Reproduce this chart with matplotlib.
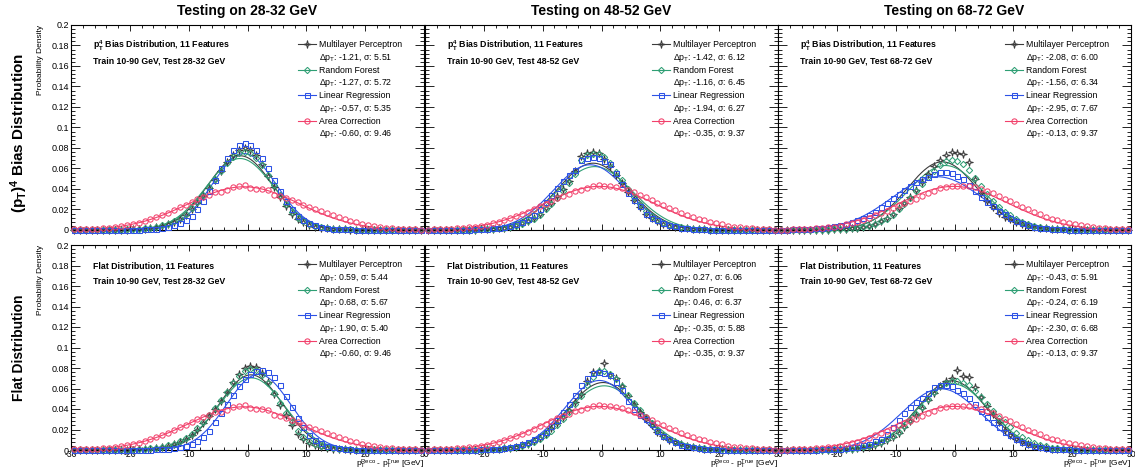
import numpy as np
import matplotlib
matplotlib.use("Agg")
import matplotlib.pyplot as plt
from matplotlib.lines import Line2D
from matplotlib.path import Path
from matplotlib.ticker import MultipleLocator, FuncFormatter

plt.rcParams.update({
    "font.family": ["Liberation Sans", "DejaVu Sans"],
    "mathtext.fontset": "custom",
    "mathtext.rm": "Liberation Sans",
    "mathtext.it": "Liberation Sans:italic",
    "mathtext.bf": "Liberation Sans:bold",
    "axes.linewidth": 0.8,
    "axes.unicode_minus": False,
})

# ----------------------------------------------------------------------------
# Data (1 GeV bins, -30 .. 30)
# ----------------------------------------------------------------------------
BIN_CENTERS = np.arange(-29.5, 30.0, 1.0)
TEST_RANGES = ["28-32", "48-52", "68-72"]

# fit results shown in the legends
MLP_MEAN_PT4 = [-1.21, -1.42, -2.08]
MLP_SIGMA_PT4 = [5.51, 6.12, 6.00]
RF_MEAN_PT4 = [-1.27, -1.16, -1.56]
RF_SIGMA_PT4 = [5.72, 6.45, 6.34]
LR_MEAN_PT4 = [-0.57, -1.94, -2.95]
LR_SIGMA_PT4 = [5.35, 6.27, 7.67]
MLP_MEAN_FLAT = [0.59, 0.27, -0.43]
MLP_SIGMA_FLAT = [5.44, 6.06, 5.91]
RF_MEAN_FLAT = [0.68, 0.46, -0.24]
RF_SIGMA_FLAT = [5.67, 6.37, 6.19]
LR_MEAN_FLAT = [1.90, -0.35, -2.30]
LR_SIGMA_FLAT = [5.40, 5.88, 6.68]
AC_MEAN = [-0.60, -0.35, -0.13]
AC_SIGMA = [9.46, 9.37, 9.37]

# area correction (same in both rows)
AC_28 = [0.0005, 0.0006, 0.0007, 0.0010, 0.0013, 0.0018, 0.0024, 0.0030, 0.0038, 0.0047,
         0.0060, 0.0072, 0.0088, 0.0105, 0.0125, 0.0146, 0.0168, 0.0192, 0.0220, 0.0246,
         0.0273, 0.0300, 0.0322, 0.0345, 0.0372, 0.0370, 0.0392, 0.0415, 0.0428, 0.0438,
         0.0405, 0.0402, 0.0396, 0.0388, 0.0345, 0.0335, 0.0315, 0.0292, 0.0270, 0.0248,
         0.0226, 0.0206, 0.0186, 0.0165, 0.0145, 0.0126, 0.0108, 0.0092, 0.0076, 0.0062,
         0.0050, 0.0040, 0.0031, 0.0024, 0.0018, 0.0014, 0.0010, 0.0008, 0.0006, 0.0004]
AC_48 = [0.0003, 0.0005, 0.0006, 0.0009, 0.0012, 0.0015, 0.0020, 0.0026, 0.0033, 0.0042,
         0.0053, 0.0066, 0.0080, 0.0096, 0.0114, 0.0140, 0.0160, 0.0180, 0.0205, 0.0232,
         0.0258, 0.0285, 0.0312, 0.0330, 0.0355, 0.0385, 0.0390, 0.0405, 0.0425, 0.0435,
         0.0432, 0.0428, 0.0420, 0.0408, 0.0390, 0.0368, 0.0342, 0.0318, 0.0292, 0.0268,
         0.0242, 0.0218, 0.0192, 0.0168, 0.0146, 0.0126, 0.0108, 0.0093, 0.0080, 0.0066,
         0.0054, 0.0043, 0.0034, 0.0026, 0.0020, 0.0015, 0.0011, 0.0008, 0.0006, 0.0004]
AC_68 = [0.0003, 0.0004, 0.0005, 0.0007, 0.0009, 0.0012, 0.0016, 0.0021, 0.0027, 0.0034,
         0.0043, 0.0054, 0.0067, 0.0082, 0.0100, 0.0120, 0.0142, 0.0166, 0.0190, 0.0215,
         0.0240, 0.0262, 0.0282, 0.0305, 0.0330, 0.0358, 0.0385, 0.0405, 0.0420, 0.0428,
         0.0430, 0.0432, 0.0428, 0.0418, 0.0400, 0.0380, 0.0358, 0.0332, 0.0306, 0.0280,
         0.0252, 0.0226, 0.0200, 0.0176, 0.0152, 0.0130, 0.0111, 0.0094, 0.0079, 0.0066,
         0.0054, 0.0044, 0.0035, 0.0028, 0.0022, 0.0017, 0.0013, 0.0010, 0.0007, 0.0005]

# pT^4 bias training
MLP_PT4_28 = [0, 0, 0, 0, 0, 0.0001, 0.0001, 0.0002, 0.0003, 0.0004,
              0.0006, 0.0009, 0.0013, 0.0019, 0.0028, 0.0040, 0.0056, 0.0078, 0.0110, 0.0150,
              0.0200, 0.0260, 0.0330, 0.0410, 0.0490, 0.0580, 0.0660, 0.0730, 0.0780, 0.0800,
              0.0780, 0.0730, 0.0640, 0.0530, 0.0420, 0.0320, 0.0230, 0.0160, 0.0110, 0.0075,
              0.0050, 0.0034, 0.0023, 0.0016, 0.0011, 0.0008, 0.0005, 0.0004, 0.0003, 0.0002,
              0.0001, 0.0001, 0.0001, 0.0001, 0.0001, 0.0001, 0.0001, 0.0001, 0.0001, 0.0001]
RF_PT4_28 = [0, 0, 0, 0, 0.0001, 0.0001, 0.0002, 0.0002, 0.0003, 0.0005,
             0.0007, 0.0010, 0.0015, 0.0022, 0.0032, 0.0045, 0.0063, 0.0087, 0.0120, 0.0160,
             0.0210, 0.0270, 0.0340, 0.0420, 0.0500, 0.0580, 0.0650, 0.0710, 0.0750, 0.0760,
             0.0750, 0.0700, 0.0630, 0.0540, 0.0440, 0.0340, 0.0250, 0.0180, 0.0120, 0.0085,
             0.0060, 0.0040, 0.0028, 0.0020, 0.0014, 0.0010, 0.0007, 0.0005, 0.0003, 0.0002,
             0.0002, 0.0001, 0.0001, 0.0001, 0.0001, 0.0001, 0.0001, 0.0001, 0.0001, 0.0001]
LR_PT4_28 = [0, 0, 0, 0, 0, 0, 0, 0.0001, 0.0001, 0.0002,
             0.0003, 0.0004, 0.0006, 0.0009, 0.0013, 0.0020, 0.0030, 0.0045, 0.0068, 0.0100,
             0.0140, 0.0200, 0.0280, 0.0380, 0.0490, 0.0600, 0.0700, 0.0780, 0.0830, 0.0850,
             0.0830, 0.0780, 0.0700, 0.0600, 0.0490, 0.0380, 0.0280, 0.0200, 0.0140, 0.0095,
             0.0065, 0.0045, 0.0030, 0.0020, 0.0014, 0.0010, 0.0007, 0.0005, 0.0003, 0.0002,
             0.0001, 0.0001, 0.0001, 0.0001, 0.0001, 0.0001, 0.0001, 0.0001, 0.0001, 0.0001]
MLP_PT4_48 = [0, 0, 0, 0, 0.0001, 0.0001, 0.0002, 0.0003, 0.0004, 0.0006,
              0.0008, 0.0011, 0.0016, 0.0023, 0.0033, 0.0047, 0.0066, 0.0090, 0.0120, 0.0160,
              0.0210, 0.0260, 0.0330, 0.0400, 0.0480, 0.0580, 0.0720, 0.0750, 0.0760, 0.0750,
              0.0690, 0.0620, 0.0540, 0.0460, 0.0370, 0.0290, 0.0220, 0.0160, 0.0120, 0.0085,
              0.0060, 0.0042, 0.0030, 0.0021, 0.0015, 0.0010, 0.0007, 0.0005, 0.0004, 0.0003,
              0.0002, 0.0002, 0.0001, 0.0001, 0.0001, 0.0001, 0.0001, 0.0001, 0.0001, 0.0001]
RF_PT4_48 = [0, 0, 0, 0, 0.0001, 0.0001, 0.0002, 0.0003, 0.0004, 0.0006,
             0.0008, 0.0011, 0.0015, 0.0021, 0.0030, 0.0043, 0.0060, 0.0083, 0.0110, 0.0150,
             0.0200, 0.0250, 0.0310, 0.0380, 0.0460, 0.0550, 0.0680, 0.0730, 0.0740, 0.0740,
             0.0710, 0.0650, 0.0570, 0.0490, 0.0400, 0.0320, 0.0250, 0.0190, 0.0140, 0.0100,
             0.0072, 0.0051, 0.0036, 0.0025, 0.0018, 0.0012, 0.0008, 0.0006, 0.0004, 0.0003,
             0.0002, 0.0002, 0.0001, 0.0001, 0.0001, 0.0001, 0.0001, 0.0001, 0.0001, 0.0001]
LR_PT4_48 = [0, 0, 0, 0.0001, 0.0001, 0.0002, 0.0003, 0.0004, 0.0006, 0.0008,
             0.0011, 0.0015, 0.0021, 0.0030, 0.0042, 0.0058, 0.0080, 0.0110, 0.0150, 0.0200,
             0.0270, 0.0340, 0.0410, 0.0480, 0.0540, 0.0590, 0.0680, 0.0700, 0.0710, 0.0700,
             0.0670, 0.0640, 0.0560, 0.0450, 0.0360, 0.0290, 0.0230, 0.0160, 0.0120, 0.0095,
             0.0072, 0.0050, 0.0035, 0.0024, 0.0016, 0.0011, 0.0007, 0.0005, 0.0003, 0.0002,
             0.0001, 0.0001, 0.0001, 0.0001, 0.0001, 0.0001, 0.0001, 0.0001, 0.0001, 0.0001]
MLP_PT4_68 = [0, 0, 0, 0, 0.0001, 0.0001, 0.0002, 0.0003, 0.0004, 0.0006,
              0.0008, 0.0011, 0.0015, 0.0021, 0.0030, 0.0042, 0.0060, 0.0085, 0.0120, 0.0160,
              0.0210, 0.0260, 0.0320, 0.0390, 0.0470, 0.0550, 0.0620, 0.0680, 0.0730, 0.0760,
              0.0750, 0.0740, 0.0660, 0.0500, 0.0360, 0.0280, 0.0220, 0.0170, 0.0130, 0.0110,
              0.0080, 0.0058, 0.0042, 0.0030, 0.0021, 0.0015, 0.0010, 0.0007, 0.0005, 0.0003,
              0.0002, 0.0002, 0.0001, 0.0001, 0.0001, 0.0001, 0.0001, 0.0001, 0.0001, 0.0001]
RF_PT4_68 = [0, 0, 0, 0, 0.0001, 0.0001, 0.0002, 0.0003, 0.0004, 0.0006,
             0.0008, 0.0011, 0.0015, 0.0021, 0.0030, 0.0042, 0.0060, 0.0083, 0.0110, 0.0150,
             0.0200, 0.0250, 0.0310, 0.0380, 0.0450, 0.0520, 0.0580, 0.0630, 0.0670, 0.0680,
             0.0670, 0.0640, 0.0590, 0.0510, 0.0430, 0.0350, 0.0280, 0.0220, 0.0180, 0.0150,
             0.0110, 0.0082, 0.0060, 0.0043, 0.0030, 0.0021, 0.0014, 0.0010, 0.0007, 0.0005,
             0.0003, 0.0003, 0.0002, 0.0002, 0.0001, 0.0001, 0.0001, 0.0001, 0.0001, 0.0001]
LR_PT4_68 = [0.0003, 0.0004, 0.0005, 0.0007, 0.0009, 0.0012, 0.0016, 0.0021, 0.0028, 0.0036,
             0.0046, 0.0060, 0.0076, 0.0095, 0.0120, 0.0148, 0.0180, 0.0220, 0.0260, 0.0310,
             0.0350, 0.0390, 0.0430, 0.0470, 0.0500, 0.0520, 0.0550, 0.0570, 0.0570, 0.0560,
             0.0530, 0.0500, 0.0440, 0.0380, 0.0320, 0.0270, 0.0230, 0.0190, 0.0160, 0.0120,
             0.0090, 0.0065, 0.0047, 0.0033, 0.0023, 0.0016, 0.0011, 0.0008, 0.0005, 0.0004,
             0.0003, 0.0002, 0.0002, 0.0001, 0.0001, 0.0001, 0.0001, 0.0001, 0.0001, 0.0001]

# flat training
MLP_FLAT_28 = [0, 0, 0, 0, 0, 0.0001, 0.0001, 0.0002, 0.0002, 0.0003,
               0.0004, 0.0006, 0.0009, 0.0013, 0.0019, 0.0028, 0.0040, 0.0057, 0.0080, 0.0110,
               0.0150, 0.0200, 0.0260, 0.0330, 0.0400, 0.0480, 0.0570, 0.0660, 0.0740, 0.0800,
               0.0820, 0.0810, 0.0750, 0.0660, 0.0550, 0.0440, 0.0340, 0.0240, 0.0160, 0.0110,
               0.0070, 0.0046, 0.0030, 0.0020, 0.0013, 0.0009, 0.0006, 0.0004, 0.0003, 0.0002,
               0.0001, 0.0001, 0.0001, 0.0001, 0.0001, 0.0001, 0.0001, 0.0001, 0.0001, 0.0001]
RF_FLAT_28 = [0, 0, 0, 0, 0, 0.0001, 0.0001, 0.0002, 0.0003, 0.0004,
              0.0005, 0.0007, 0.0010, 0.0015, 0.0022, 0.0032, 0.0045, 0.0063, 0.0088, 0.0120,
              0.0160, 0.0210, 0.0270, 0.0340, 0.0410, 0.0490, 0.0570, 0.0650, 0.0720, 0.0770,
              0.0790, 0.0780, 0.0730, 0.0650, 0.0560, 0.0460, 0.0360, 0.0270, 0.0190, 0.0130,
              0.0088, 0.0060, 0.0040, 0.0027, 0.0018, 0.0012, 0.0008, 0.0005, 0.0003, 0.0002,
              0.0001, 0.0001, 0.0001, 0.0001, 0.0001, 0.0001, 0.0001, 0.0001, 0.0001, 0.0001]
LR_FLAT_28 = [0, 0, 0, 0, 0, 0, 0, 0, 0.0001, 0.0001,
              0.0001, 0.0002, 0.0003, 0.0004, 0.0006, 0.0009, 0.0013, 0.0019, 0.0028, 0.0040,
              0.0058, 0.0085, 0.0130, 0.0190, 0.0270, 0.0360, 0.0450, 0.0540, 0.0620, 0.0690,
              0.0740, 0.0770, 0.0780, 0.0760, 0.0710, 0.0630, 0.0530, 0.0420, 0.0310, 0.0220,
              0.0150, 0.0100, 0.0065, 0.0042, 0.0027, 0.0017, 0.0011, 0.0007, 0.0004, 0.0003,
              0.0002, 0.0001, 0.0001, 0.0001, 0.0001, 0.0001, 0.0001, 0.0001, 0.0001, 0.0001]
MLP_FLAT_48 = [0, 0, 0, 0, 0.0001, 0.0001, 0.0002, 0.0002, 0.0003, 0.0004,
               0.0006, 0.0008, 0.0011, 0.0016, 0.0023, 0.0032, 0.0045, 0.0063, 0.0088, 0.0120,
               0.0160, 0.0210, 0.0260, 0.0320, 0.0390, 0.0470, 0.0550, 0.0670, 0.0760, 0.0770,
               0.0850, 0.0730, 0.0700, 0.0620, 0.0530, 0.0450, 0.0370, 0.0300, 0.0240, 0.0180,
               0.0140, 0.0100, 0.0075, 0.0055, 0.0040, 0.0028, 0.0020, 0.0014, 0.0010, 0.0007,
               0.0005, 0.0003, 0.0002, 0.0002, 0.0001, 0.0001, 0.0001, 0.0001, 0.0001, 0.0001]
RF_FLAT_48 = [0, 0, 0, 0, 0.0001, 0.0001, 0.0002, 0.0002, 0.0003, 0.0004,
              0.0006, 0.0008, 0.0011, 0.0015, 0.0021, 0.0030, 0.0042, 0.0058, 0.0080, 0.0110,
              0.0150, 0.0190, 0.0240, 0.0300, 0.0370, 0.0450, 0.0530, 0.0630, 0.0710, 0.0770,
              0.0770, 0.0740, 0.0690, 0.0620, 0.0540, 0.0460, 0.0390, 0.0320, 0.0260, 0.0200,
              0.0150, 0.0110, 0.0082, 0.0060, 0.0043, 0.0030, 0.0021, 0.0015, 0.0010, 0.0007,
              0.0005, 0.0003, 0.0002, 0.0002, 0.0001, 0.0001, 0.0001, 0.0001, 0.0001, 0.0001]
LR_FLAT_48 = [0, 0, 0, 0, 0.0001, 0.0001, 0.0002, 0.0003, 0.0004, 0.0005,
              0.0007, 0.0010, 0.0014, 0.0020, 0.0028, 0.0040, 0.0056, 0.0078, 0.0110, 0.0140,
              0.0180, 0.0230, 0.0290, 0.0370, 0.0450, 0.0540, 0.0630, 0.0700, 0.0750, 0.0760,
              0.0750, 0.0730, 0.0660, 0.0590, 0.0480, 0.0400, 0.0340, 0.0300, 0.0250, 0.0190,
              0.0140, 0.0105, 0.0075, 0.0052, 0.0036, 0.0025, 0.0017, 0.0011, 0.0007, 0.0005,
              0.0003, 0.0002, 0.0002, 0.0001, 0.0001, 0.0001, 0.0001, 0.0001, 0.0001, 0.0001]
MLP_FLAT_68 = [0, 0, 0, 0, 0.0001, 0.0001, 0.0002, 0.0002, 0.0003, 0.0004,
               0.0006, 0.0008, 0.0011, 0.0016, 0.0023, 0.0033, 0.0047, 0.0067, 0.0093, 0.0130,
               0.0170, 0.0220, 0.0280, 0.0340, 0.0410, 0.0490, 0.0560, 0.0620, 0.0670, 0.0700,
               0.0780, 0.0720, 0.0710, 0.0610, 0.0520, 0.0430, 0.0350, 0.0270, 0.0200, 0.0150,
               0.0110, 0.0078, 0.0055, 0.0038, 0.0026, 0.0018, 0.0012, 0.0008, 0.0005, 0.0003,
               0.0002, 0.0002, 0.0001, 0.0001, 0.0001, 0.0001, 0.0001, 0.0001, 0.0001, 0.0001]
RF_FLAT_68 = [0, 0, 0, 0, 0.0001, 0.0001, 0.0002, 0.0003, 0.0004, 0.0005,
              0.0007, 0.0010, 0.0014, 0.0020, 0.0028, 0.0040, 0.0056, 0.0078, 0.0107, 0.0140,
              0.0180, 0.0230, 0.0290, 0.0350, 0.0420, 0.0500, 0.0570, 0.0620, 0.0650, 0.0670,
              0.0670, 0.0650, 0.0630, 0.0580, 0.0520, 0.0450, 0.0380, 0.0310, 0.0270, 0.0220,
              0.0170, 0.0130, 0.0095, 0.0070, 0.0050, 0.0035, 0.0024, 0.0016, 0.0011, 0.0007,
              0.0005, 0.0003, 0.0002, 0.0002, 0.0001, 0.0001, 0.0001, 0.0001, 0.0001, 0.0001]
LR_FLAT_68 = [0, 0, 0.0001, 0.0001, 0.0002, 0.0003, 0.0004, 0.0005, 0.0007, 0.0010,
              0.0013, 0.0018, 0.0025, 0.0034, 0.0046, 0.0062, 0.0083, 0.0110, 0.0160, 0.0220,
              0.0290, 0.0360, 0.0420, 0.0470, 0.0510, 0.0560, 0.0610, 0.0630, 0.0630, 0.0620,
              0.0590, 0.0560, 0.0510, 0.0450, 0.0380, 0.0320, 0.0270, 0.0220, 0.0180, 0.0145,
              0.0110, 0.0082, 0.0060, 0.0043, 0.0030, 0.0021, 0.0014, 0.0010, 0.0007, 0.0005,
              0.0003, 0.0002, 0.0002, 0.0001, 0.0001, 0.0001, 0.0001, 0.0001, 0.0001, 0.0001]

# ----------------------------------------------------------------------------
# Style
# ----------------------------------------------------------------------------
COLORS = {"mlp": "#3c3c3c", "rf": "#2f9f74", "lr": "#2d52e6", "ac": "#f2406b"}
STAR = Path([(0, 1), (0.2, 0.2), (1, 0), (0.2, -0.2), (0, -1),
             (-0.2, -0.2), (-1, 0), (-0.2, 0.2), (0, 1)], closed=True)
MARKERS = {"mlp": STAR, "rf": "D", "lr": "s", "ac": "o"}
MSIZE = {"mlp": 5.4, "rf": 3.2, "lr": 3.6, "ac": 3.8}
NAMES = {"mlp": "Multilayer Perceptron", "rf": "Random Forest",
         "lr": "Linear Regression", "ac": "Area Correction"}

FIG_W, FIG_H = 1135, 470
COL_X = [71, 425, 778]
PANEL_W = 353
ROW_TOP = [25, 245]
PANEL_H = 205


def gauss(x, mu, sig):
    return np.exp(-0.5 * ((x - mu) / sig) ** 2) / (sig * np.sqrt(2 * np.pi))


def y_fmt(v, _):
    return "%g" % round(v, 3)


def draw_panel(ax, row, col, series):
    xs = np.linspace(-30, 30, 500)
    handles, labels = [], []
    for key, vals, mu, sig in series:
        c = COLORS[key]
        ax.plot(xs, gauss(xs, mu, sig), color=c, lw=0.8, zorder=2)
        ax.plot(BIN_CENTERS, vals, ls="none", marker=MARKERS[key], ms=MSIZE[key],
                mfc="none", mec=c, mew=0.75, clip_on=False, zorder=3)
        handles.append(Line2D([0], [0], color=c, lw=0.8, marker=MARKERS[key],
                              ms=MSIZE[key], mfc="none", mec=c, mew=0.75))
        labels.append(NAMES[key])
        handles.append(Line2D([], [], ls="none"))
        labels.append("\u0394p$_\\mathrm{T}$: %.2f, \u03c3: %.2f" % (mu, sig))

    ax.legend(handles, labels, loc="upper left", bbox_to_anchor=(0.643, 0.925),
              frameon=False, fontsize=6.3, handlelength=2.1, handletextpad=0.35,
              labelspacing=0.26, borderpad=0, borderaxespad=0, numpoints=1)

    ax.set_xlim(-30, 30)
    ax.set_ylim(0, 0.2)
    ax.xaxis.set_major_locator(MultipleLocator(10))
    ax.xaxis.set_minor_locator(MultipleLocator(2))
    ax.yaxis.set_major_locator(MultipleLocator(0.02))
    ax.yaxis.set_minor_locator(MultipleLocator(0.004))
    ax.tick_params(which="both", direction="in", top=True, right=True,
                   width=0.6, labelsize=6.5, colors="black")
    ax.tick_params(axis="x", which="major", length=4.3, pad=0.0, labelsize=6.2)
    ax.tick_params(axis="x", which="minor", length=2.2)
    ax.tick_params(axis="y", which="major", length=6.5, pad=1.5)
    ax.tick_params(axis="y", which="minor", length=3.2)

    if col == 0:
        ax.yaxis.set_major_formatter(FuncFormatter(y_fmt))
    else:
        ax.set_yticklabels([])
    if row == 1:
        if col == 0:
            ax.xaxis.set_major_formatter(FuncFormatter(lambda v, _: "%d" % v))
        else:
            ax.xaxis.set_major_formatter(
                FuncFormatter(lambda v, _: "" if v <= -30 else "%d" % v))
        ax.text(1.0, -0.103, "p$_\\mathrm{T}^\\mathrm{Reco}$ - p$_\\mathrm{T}^\\mathrm{True}$ [GeV]",
                transform=ax.transAxes, ha="right", va="bottom", fontsize=6.0)
    else:
        ax.set_xticklabels([])

    rng = TEST_RANGES[col]
    if row == 0:
        head = "$\\mathbf{p_{T}^{4}}$ Bias Distribution, 11 Features"
    else:
        head = "Flat Distribution, 11 Features"
    ax.text(0.062, 0.897, head, transform=ax.transAxes, fontsize=6.3,
            fontweight="bold", va="center")
    ax.text(0.062, 0.823, "Train 10-90 GeV, Test %s GeV" % rng, transform=ax.transAxes,
            fontsize=6.3, fontweight="bold", va="center")


fig = plt.figure(figsize=(FIG_W / 100, FIG_H / 100), dpi=100, facecolor="white")

AC_DATA = [AC_28, AC_48, AC_68]
MLP_ROWS = [[MLP_PT4_28, MLP_PT4_48, MLP_PT4_68], [MLP_FLAT_28, MLP_FLAT_48, MLP_FLAT_68]]
RF_ROWS = [[RF_PT4_28, RF_PT4_48, RF_PT4_68], [RF_FLAT_28, RF_FLAT_48, RF_FLAT_68]]
LR_ROWS = [[LR_PT4_28, LR_PT4_48, LR_PT4_68], [LR_FLAT_28, LR_FLAT_48, LR_FLAT_68]]
FITS = [
    (MLP_MEAN_PT4, MLP_SIGMA_PT4, RF_MEAN_PT4, RF_SIGMA_PT4, LR_MEAN_PT4, LR_SIGMA_PT4),
    (MLP_MEAN_FLAT, MLP_SIGMA_FLAT, RF_MEAN_FLAT, RF_SIGMA_FLAT, LR_MEAN_FLAT, LR_SIGMA_FLAT),
]

for row in range(2):
    mm, ms, rm, rs, lm, ls = FITS[row]
    for col in range(3):
        ax = fig.add_axes([COL_X[col] / FIG_W,
                           1 - (ROW_TOP[row] + PANEL_H) / FIG_H,
                           PANEL_W / FIG_W, PANEL_H / FIG_H])
        series = [
            ("mlp", MLP_ROWS[row][col], mm[col], ms[col]),
            ("rf", RF_ROWS[row][col], rm[col], rs[col]),
            ("lr", LR_ROWS[row][col], lm[col], ls[col]),
            ("ac", AC_DATA[col], AC_MEAN[col], AC_SIGMA[col]),
        ]
        draw_panel(ax, row, col, series)

    # row caption and y-axis title
    mid = ROW_TOP[row] + PANEL_H / 2
    if row == 0:
        fig.text(19 / FIG_W, 1 - (mid + 5) / FIG_H,
                 "$\\mathbf{(p_{T})^{4}}$ Bias Distribution", rotation=90,
                 ha="center", va="center", fontsize=11, fontweight="bold")
    else:
        fig.text(19 / FIG_W, 1 - mid / FIG_H, "Flat Distribution", rotation=90,
                 ha="center", va="center", fontsize=10, fontweight="bold")
    fig.text(40 / FIG_W, 1 - ROW_TOP[row] / FIG_H, "Probability Density", rotation=90,
             ha="center", va="top", fontsize=6)

for col in range(3):
    fig.text((COL_X[col] + PANEL_W / 2) / FIG_W, 1 - 11 / FIG_H,
             "Testing on %s GeV" % TEST_RANGES[col], ha="center", va="center",
             fontsize=10, fontweight="bold")

fig.savefig("out.png", dpi=100)
